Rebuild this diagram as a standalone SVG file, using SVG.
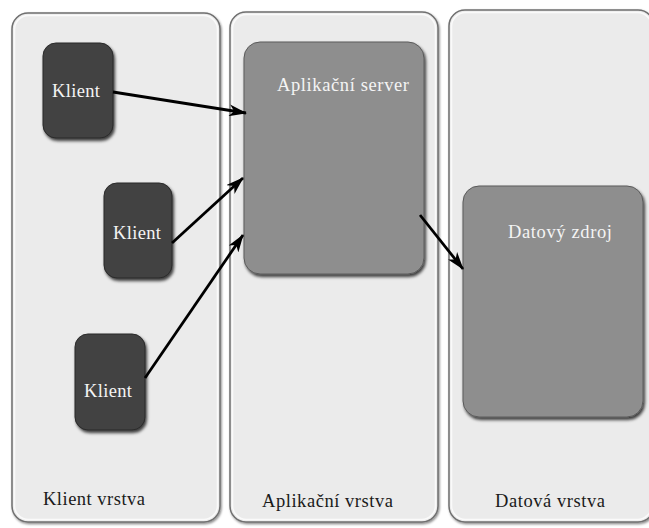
<svg xmlns="http://www.w3.org/2000/svg" width="649" height="528" viewBox="0 0 649 528">
<defs>
<filter id="sh" x="-10%" y="-10%" width="130%" height="130%">
<feDropShadow dx="1.5" dy="2.5" stdDeviation="1.5" flood-color="#000" flood-opacity="0.75"/>
</filter>
<filter id="psh" x="-5%" y="-5%" width="110%" height="110%">
<feDropShadow dx="1" dy="1.5" stdDeviation="1" flood-color="#000" flood-opacity="0.45"/>
</filter>
<marker id="ah" viewBox="0 0 18 12" refX="17" refY="6" markerWidth="18" markerHeight="12" markerUnits="userSpaceOnUse" orient="auto">
<path d="M0,0 L18,6 L0,12 L5,6 Z" fill="#000"/>
</marker>
<style>
.panel{fill:#ebebeb;stroke:#6f6f6f;stroke-width:1.5;filter:url(#psh)}
.inner{fill:none;stroke:#fafafa;stroke-width:1.5}
.klient{fill:#424242;stroke:#2a2a2a;stroke-width:1;filter:url(#sh)}
.big{fill:#8e8e8e;stroke:#5a5a5a;stroke-width:1;filter:url(#sh)}
text{font-family:"Liberation Serif","DejaVu Serif",serif;font-size:18.5px}
.wt{fill:#f4f4f4}
.lbl{fill:#1a1a1a}
.conn{stroke:#000;stroke-width:2.8;fill:none;marker-end:url(#ah)}
</style>
</defs>
<rect width="649" height="528" fill="#ffffff"/>
<g id="panel-klient">
<rect class="panel" x="12" y="13" width="208" height="509" rx="16"/>
<rect class="inner" x="14.5" y="15.5" width="203" height="504" rx="14"/>
<text class="lbl" x="43" y="505" textLength="102">Klient vrstva</text>
</g>
<g id="panel-aplikacni">
<rect class="panel" x="230" y="12" width="208" height="510" rx="16"/>
<rect class="inner" x="232.5" y="14.5" width="203" height="505" rx="14"/>
<text class="lbl" x="262" y="507" textLength="131">Aplikační vrstva</text>
</g>
<g id="panel-datova">
<rect class="panel" x="449" y="10" width="205" height="512" rx="16"/>
<rect class="inner" x="451.5" y="12.5" width="200" height="507" rx="14"/>
<text class="lbl" x="495" y="507" textLength="110">Datová vrstva</text>
</g>
<g id="klient1">
<rect class="klient" x="43" y="43" width="70" height="95" rx="13"/>
<text class="wt" x="52" y="97" textLength="48">Klient</text>
</g>
<g id="klient2">
<rect class="klient" x="104" y="183" width="68" height="95" rx="13"/>
<text class="wt" x="113" y="239" textLength="48">Klient</text>
</g>
<g id="klient3">
<rect class="klient" x="75" y="334" width="70" height="96" rx="13"/>
<text class="wt" x="84" y="397" textLength="48">Klient</text>
</g>
<g id="aplikacni-server">
<rect class="big" x="244" y="42" width="180" height="232" rx="16"/>
<text class="wt" x="277" y="91" textLength="132">Aplikační server</text>
</g>
<g id="datovy-zdroj">
<rect class="big" x="463" y="186" width="180" height="231" rx="16"/>
<text class="wt" x="508" y="238" textLength="104">Datový zdroj</text>
</g>
<g id="connectors">
<line class="conn" x1="113" y1="92" x2="246" y2="113"/>
<line class="conn" x1="172" y1="243" x2="243" y2="178"/>
<line class="conn" x1="145" y1="378" x2="243" y2="235"/>
<line class="conn" x1="420" y1="215" x2="463" y2="269"/>
</g>
</svg>
